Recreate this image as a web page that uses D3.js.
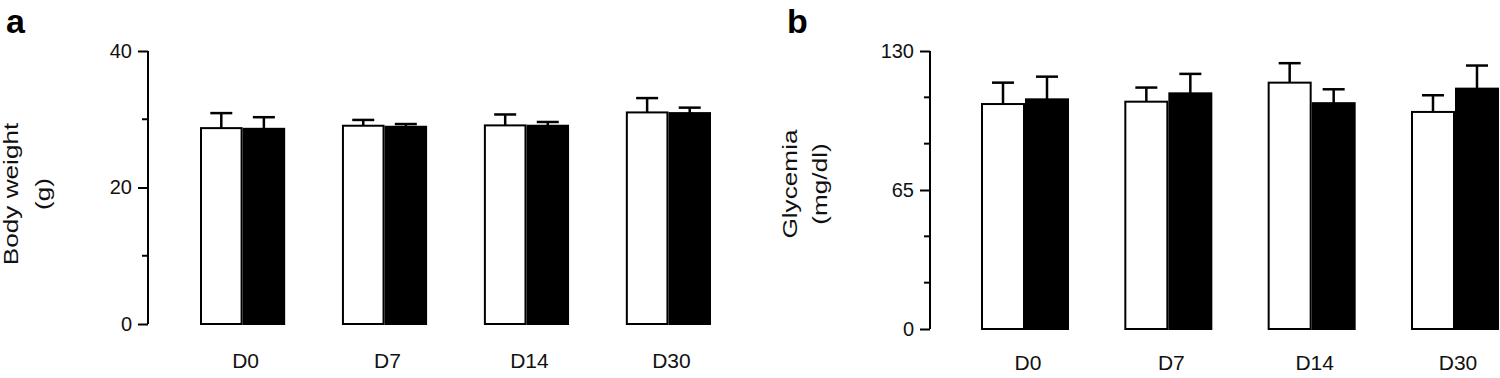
<!DOCTYPE html>
<html>
<head>
<meta charset="utf-8">
<script src="https://cdn.jsdelivr.net/npm/d3@7"></script>
<style>
body { margin: 0; background: #fff; }
svg { display: block; font-family: "Liberation Sans", Arial, sans-serif; }
</style>
</head>
<body>
<svg id="chart"></svg>
<script>
// time points
const days = ['D0', 'D7', 'D14', 'D30'];
const groups = ['control', 'treated'];

// panel a - body weight (g)
const weightControl = [28.7, 29.05, 29.1, 31.0];
const weightControlSd = [2.2, 0.85, 1.6, 2.1];
const weightTreated = [28.6, 28.9, 29.05, 30.9];
const weightTreatedSd = [1.7, 0.4, 0.55, 0.8];
const weightTicks = [0, 20, 40];
const weightMinorTicks = [10, 30];

// panel b - glycemia (mg/dl)
const glyControl = [105.2, 106.3, 115.2, 101.5];
const glyControlSd = [10.0, 6.6, 9.1, 7.8];
const glyTreated = [107.4, 110.2, 105.6, 112.4];
const glyTreatedSd = [10.6, 9.1, 6.5, 10.8];
const glyTicks = [0, 65, 130];
const glyMinorTicks = [21.67, 43.33, 86.67, 108.33];

const svg = d3.select('#chart')
.attr('width', 1500)
.attr('height', 378);

function drawPanel(p) {
  const g = svg.append('g');

  const y = d3.scaleLinear()
  .domain([0, p.max])
  .range([p.bottom, 51]);

  const x = d3.scaleBand()
  .domain(days)
  .range(p.xRange)
  .paddingInner(p.padding)
  .paddingOuter(0);

  const xSub = d3.scaleBand()
  .domain(groups)
  .range([0, x.bandwidth()]);

  const rows = [];
  days.forEach((d, i) => {
    rows.push({day: d, group: 'control', value: p.control[i], sd: p.controlSd[i]});
    rows.push({day: d, group: 'treated', value: p.treated[i], sd: p.treatedSd[i]});
  });

  // y axis
  const axis = g.append('g')
  .attr('transform', `translate(${p.axisX}, 0)`)
  .call(d3.axisLeft(y).tickValues(p.ticks).tickSize(10).tickPadding(6));

  axis.select('.domain')
  .attr('d', `M0,${y(p.max)}V${y(0)}`)
  .attr('stroke', '#000')
  .attr('stroke-width', 2);

  axis.selectAll('.tick line')
  .attr('stroke', '#000')
  .attr('stroke-width', 2);

  axis.selectAll('.tick text')
  .style('font-size', '20px')
  .attr('fill', '#111');

  g.selectAll('.minor')
  .data(p.minor)
  .enter()
  .append('line')
  .attr('x1', p.axisX - 6)
  .attr('x2', p.axisX)
  .attr('y1', d => y(d))
  .attr('y2', d => y(d))
  .attr('stroke', '#000')
  .attr('stroke-width', 2);

  // error bars (drawn under the bars)
  const errX = d => x(d.day) + xSub(d.group) + xSub.bandwidth() / 2;

  g.selectAll('.err')
  .data(rows)
  .enter()
  .append('line')
  .attr('x1', errX)
  .attr('x2', errX)
  .attr('y1', d => y(d.value))
  .attr('y2', d => y(d.value + d.sd))
  .attr('stroke', '#000')
  .attr('stroke-width', 2.5);

  g.selectAll('.cap')
  .data(rows)
  .enter()
  .append('line')
  .attr('x1', d => errX(d) - 11)
  .attr('x2', d => errX(d) + 11)
  .attr('y1', d => y(d.value + d.sd))
  .attr('y2', d => y(d.value + d.sd))
  .attr('stroke', '#000')
  .attr('stroke-width', 2.5);

  // bars
  g.selectAll('.bar')
  .data(rows)
  .enter()
  .append('rect')
  .attr('x', d => x(d.day) + xSub(d.group) + 1)
  .attr('y', d => y(d.value))
  .attr('width', xSub.bandwidth() - 2)
  .attr('height', d => y(0) - y(d.value))
  .attr('fill', d => d.group === 'control' ? '#fff' : '#000')
  .attr('stroke', '#000')
  .attr('stroke-width', 2);

  // x labels
  g.selectAll('.xlab')
  .data(days)
  .enter()
  .append('text')
  .attr('x', d => x(d) + x.bandwidth() / 2 + 3)
  .attr('y', p.labelY)
  .attr('text-anchor', 'middle')
  .style('font-size', '21px')
  .attr('fill', '#111')
  .text(d => d);

  // y title, two lines (stretched along its length like the original)
  p.title.forEach((t, i) => {
    g.append('text')
    .attr('transform', `translate(${p.titleX[i]}, ${p.titleY}) rotate(-90) scale(1.31, 1)`)
    .attr('text-anchor', 'middle')
    .style('font-size', '20px')
    .attr('fill', '#111')
    .text(t);
  });

  // panel letter
  g.append('text')
  .attr('x', p.letterX)
  .attr('y', 33)
  .style('font-size', '34px')
  .style('font-weight', 'bold')
  .attr('fill', '#000')
  .text(p.letter);
}

drawPanel({
  letter: 'a', letterX: 6,
  max: 40, bottom: 324, axisX: 148,
  ticks: weightTicks, minor: weightMinorTicks,
  control: weightControl, controlSd: weightControlSd,
  treated: weightTreated, treatedSd: weightTreatedSd,
  xRange: [200, 711], padding: 0.4,
  labelY: 368,
  title: ['Body weight', '(g)'], titleX: [18, 50], titleY: 194
});

drawPanel({
  letter: 'b', letterX: 787,
  max: 130, bottom: 329, axisX: 930,
  ticks: glyTicks, minor: glyMinorTicks,
  control: glyControl, controlSd: glyControlSd,
  treated: glyTreated, treatedSd: glyTreatedSd,
  xRange: [981, 1499], padding: 0.386,
  labelY: 370,
  title: ['Glycemia', '(mg/dl)'], titleX: [797, 827], titleY: 184
});
</script>
</body>
</html>
